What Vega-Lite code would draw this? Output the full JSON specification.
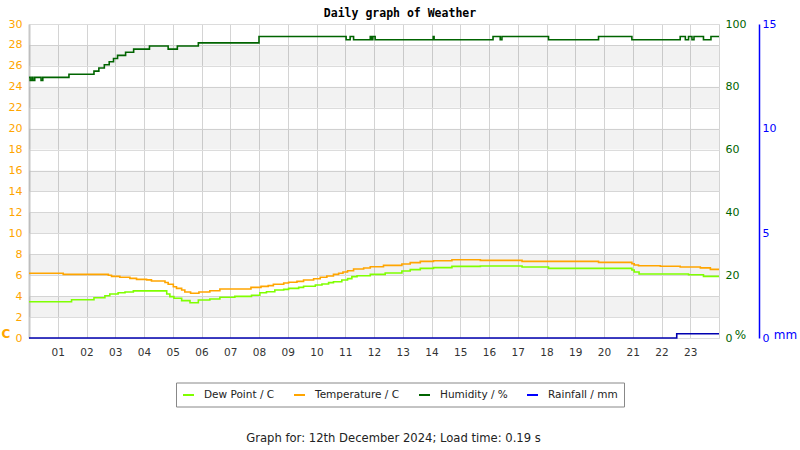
{
  "$schema": "https://vega.github.io/schema/vega-lite/v6.json",
  "width": 690,
  "height": 314,
  "autosize": "none",
  "padding": {"left": 29, "top": 24, "right": 81, "bottom": 112},
  "background": "white",
  "title": {"text": "Daily graph of Weather", "font": "DejaVu Sans Mono", "fontWeight": "bold", "fontSize": 11.5, "color": "#000", "dx": 26, "offset": -1.5, "anchor": "middle"},
  "config": {"font": "DejaVu Sans", "view": {"stroke": "#d4d4d4"}, "axis": {"labelOverlap": false, "labelBound": false}},
  "datasets": {
    "bands": [{"lo": 2, "hi": 4}, {"lo": 6, "hi": 8}, {"lo": 10, "hi": 12}, {"lo": 14, "hi": 16}, {"lo": 18, "hi": 20}, {"lo": 22, "hi": 24}, {"lo": 26, "hi": 28}],
    "temp": [
      {"h": 0, "v": 6.18}, {"h": 1.19, "v": 6.08}, {"h": 2.76, "v": 6.0}, {"h": 2.87, "v": 5.89}, {"h": 3.16, "v": 5.8},
      {"h": 3.51, "v": 5.7}, {"h": 3.74, "v": 5.6}, {"h": 4.09, "v": 5.55}, {"h": 4.26, "v": 5.44}, {"h": 4.73, "v": 5.3},
      {"h": 4.84, "v": 5.13}, {"h": 5.02, "v": 4.9}, {"h": 5.13, "v": 4.74}, {"h": 5.31, "v": 4.58}, {"h": 5.42, "v": 4.39},
      {"h": 5.62, "v": 4.27}, {"h": 5.91, "v": 4.39}, {"h": 6.29, "v": 4.52}, {"h": 6.64, "v": 4.68}, {"h": 7.72, "v": 4.84},
      {"h": 8.07, "v": 4.93}, {"h": 8.32, "v": 5.0}, {"h": 8.5, "v": 5.13}, {"h": 8.86, "v": 5.25}, {"h": 9.03, "v": 5.32},
      {"h": 9.32, "v": 5.41}, {"h": 9.55, "v": 5.54}, {"h": 9.9, "v": 5.66}, {"h": 10.13, "v": 5.8}, {"h": 10.36, "v": 5.92},
      {"h": 10.59, "v": 6.08}, {"h": 10.77, "v": 6.18}, {"h": 10.92, "v": 6.3}, {"h": 11.08, "v": 6.43}, {"h": 11.29, "v": 6.59},
      {"h": 11.64, "v": 6.69}, {"h": 11.87, "v": 6.81}, {"h": 12.33, "v": 6.94}, {"h": 12.97, "v": 7.07}, {"h": 13.26, "v": 7.2},
      {"h": 13.61, "v": 7.32}, {"h": 14.07, "v": 7.38}, {"h": 14.71, "v": 7.48}, {"h": 15.7, "v": 7.42}, {"h": 17.15, "v": 7.32},
      {"h": 19.81, "v": 7.23}, {"h": 20.97, "v": 7.1}, {"h": 21.05, "v": 6.97}, {"h": 21.2, "v": 6.9}, {"h": 21.96, "v": 6.85},
      {"h": 22.65, "v": 6.78}, {"h": 23.35, "v": 6.7}, {"h": 23.7, "v": 6.56}, {"h": 24, "v": 6.56}
    ],
    "dew": [
      {"h": 0, "v": 3.47}, {"h": 1.48, "v": 3.66}, {"h": 2.26, "v": 3.85}, {"h": 2.64, "v": 4.04}, {"h": 2.81, "v": 4.2},
      {"h": 3.1, "v": 4.33}, {"h": 3.34, "v": 4.4}, {"h": 3.63, "v": 4.5}, {"h": 4.79, "v": 4.2}, {"h": 4.9, "v": 3.95},
      {"h": 5.04, "v": 3.8}, {"h": 5.31, "v": 3.57}, {"h": 5.6, "v": 3.37}, {"h": 5.89, "v": 3.63}, {"h": 6.29, "v": 3.72},
      {"h": 6.64, "v": 3.89}, {"h": 7.16, "v": 3.98}, {"h": 7.74, "v": 4.08}, {"h": 8.03, "v": 4.33}, {"h": 8.26, "v": 4.42},
      {"h": 8.55, "v": 4.58}, {"h": 8.86, "v": 4.65}, {"h": 9.03, "v": 4.74}, {"h": 9.38, "v": 4.84}, {"h": 9.55, "v": 4.94},
      {"h": 9.96, "v": 5.06}, {"h": 10.19, "v": 5.16}, {"h": 10.42, "v": 5.29}, {"h": 10.59, "v": 5.38}, {"h": 10.88, "v": 5.54},
      {"h": 11.08, "v": 5.67}, {"h": 11.23, "v": 5.86}, {"h": 11.41, "v": 5.95}, {"h": 11.87, "v": 6.08}, {"h": 12.39, "v": 6.21},
      {"h": 12.97, "v": 6.4}, {"h": 13.26, "v": 6.53}, {"h": 13.61, "v": 6.65}, {"h": 14.07, "v": 6.72}, {"h": 14.71, "v": 6.84},
      {"h": 15.7, "v": 6.88}, {"h": 17.15, "v": 6.78}, {"h": 18.07, "v": 6.65}, {"h": 20.97, "v": 6.5}, {"h": 21.05, "v": 6.3},
      {"h": 21.22, "v": 6.11}, {"h": 22.94, "v": 6.05}, {"h": 23.46, "v": 5.89}, {"h": 24, "v": 5.89}
    ],
    "hum": [
      {"h": 0, "v": 83}, {"h": 0.04, "v": 82}, {"h": 0.1, "v": 83}, {"h": 0.14, "v": 82}, {"h": 0.2, "v": 83},
      {"h": 0.42, "v": 82}, {"h": 0.48, "v": 83}, {"h": 1.39, "v": 84}, {"h": 2.26, "v": 85}, {"h": 2.43, "v": 86},
      {"h": 2.62, "v": 87}, {"h": 2.79, "v": 88}, {"h": 2.94, "v": 89}, {"h": 3.08, "v": 90}, {"h": 3.36, "v": 91},
      {"h": 3.64, "v": 92}, {"h": 4.19, "v": 93}, {"h": 4.84, "v": 92}, {"h": 5.16, "v": 93}, {"h": 5.89, "v": 94},
      {"h": 8.0, "v": 96}, {"h": 11.03, "v": 95}, {"h": 11.17, "v": 96}, {"h": 11.29, "v": 95}, {"h": 11.87, "v": 96},
      {"h": 11.92, "v": 95}, {"h": 11.96, "v": 96}, {"h": 12.04, "v": 95}, {"h": 14.06, "v": 96}, {"h": 14.09, "v": 95},
      {"h": 16.14, "v": 96}, {"h": 16.39, "v": 95}, {"h": 16.45, "v": 96}, {"h": 18.07, "v": 95}, {"h": 19.81, "v": 96},
      {"h": 20.97, "v": 95}, {"h": 22.65, "v": 96}, {"h": 22.83, "v": 95}, {"h": 22.94, "v": 96}, {"h": 23.06, "v": 95},
      {"h": 23.13, "v": 96}, {"h": 23.46, "v": 95}, {"h": 23.72, "v": 96}, {"h": 24, "v": 96}
    ],
    "rain": [{"h": 0, "v": 0}, {"h": 22.53, "v": 0.2}, {"h": 24, "v": 0.2}]
  },
  "layer": [
    {
      "layer": [
        {
          "data": {"name": "bands"},
          "mark": {"type": "rect", "fill": "#000", "opacity": 0.05},
          "encoding": {
            "x": {"datum": 0, "type": "quantitative", "scale": {"domain": [0, 24], "nice": false, "zero": false}},
            "x2": {"datum": 24},
            "y": {"field": "lo", "type": "quantitative", "scale": {"domain": [0, 30], "nice": false}, "title": "C"},
            "y2": {"field": "hi"}
          }
        },
        {
          "data": {"name": "dew"},
          "mark": {"type": "line", "interpolate": "step-after", "strokeWidth": 1.6},
          "encoding": {
            "x": {"field": "h", "type": "quantitative", "scale": {"domain": [0, 24], "nice": false, "zero": false}, "title": "Graph for: 12th December 2024; Load time: 0.19 s"},
            "y": {"field": "v", "type": "quantitative", "scale": {"domain": [0, 30], "nice": false}, "title": "C"},
            "color": {"datum": "Dew Point / C", "type": "nominal",
              "scale": {"domain": ["Dew Point / C", "Temperature / C", "Humidity / %", "Rainfall / mm"], "range": ["#7fff00", "#ffa500", "#006400", "#0000ff"]}}
          }
        },
        {
          "data": {"name": "temp"},
          "mark": {"type": "line", "interpolate": "step-after", "strokeWidth": 1.6},
          "encoding": {
            "x": {"field": "h", "type": "quantitative", "scale": {"domain": [0, 24], "nice": false, "zero": false},
              "title": "Graph for: 12th December 2024; Load time: 0.19 s",
              "axis": {"values": [1, 2, 3, 4, 5, 6, 7, 8, 9, 10, 11, 12, 13, 14, 15, 16, 17, 18, 19, 20, 21, 22, 23],
                "tickCount": 100,
                "labelExpr": "datum.value < 10 ? '0' + datum.value : '' + datum.value",
                "labelOverlap": false,
                "grid": true, "gridColor": "#d4d4d4", "ticks": false, "domain": false, "labelPadding": 9,
                "labelFontSize": 10.5, "labelColor": "#333", "labelFont": "DejaVu Sans",
                "titleFontSize": 11.6, "titleFontWeight": "normal", "titleColor": "#222", "titleFont": "DejaVu Sans",
                "titleX": 364, "titleY": 100, "titleAlign": "center", "titleBaseline": "middle"}},
            "y": {"field": "v", "type": "quantitative", "scale": {"domain": [0, 30], "nice": false}, "title": "C",
              "axis": {"values": [0, 2, 4, 6, 8, 10, 12, 14, 16, 18, 20, 22, 24, 26, 28, 30],
                "tickCount": 100, "format": "d",
                "labelOverlap": false,
                "grid": true, "gridColor": "#dcdcdc", "ticks": false, "domain": true, "domainColor": "#c8c8c8", "domainWidth": 2,
                "labelColor": "#ffa500", "labelFontSize": 11, "labelPadding": 7, "labelFont": "DejaVu Sans",
                "titleColor": "#ffa500", "titleFontSize": 12, "titleFontWeight": "bold", "titleAngle": 0,
                "titleX": -23.5, "titleY": 309, "titleAlign": "center", "titleBaseline": "middle"}},
            "color": {"datum": "Temperature / C", "type": "nominal",
              "scale": {"domain": ["Dew Point / C", "Temperature / C", "Humidity / %", "Rainfall / mm"], "range": ["#7fff00", "#ffa500", "#006400", "#0000ff"]},
              "legend": {"title": null, "orient": "none", "legendX": 147, "legendY": 358.5, "direction": "horizontal", "columns": 4,
                "gridAlign": "none",
                "symbolType": "stroke", "symbolSize": 121, "symbolStrokeWidth": 2, "labelFontSize": 10.5, "labelColor": "#222",
                "labelFont": "DejaVu Sans", "labelOffset": 9, "columnPadding": 15, "padding": 6, "strokeColor": "#888", "fillColor": "#fff"}}
          }
        }
      ]
    },
    {
      "data": {"name": "hum"},
      "mark": {"type": "line", "interpolate": "step-after", "strokeWidth": 1.6},
      "encoding": {
        "x": {"field": "h", "type": "quantitative", "scale": {"domain": [0, 24], "nice": false, "zero": false}, "title": "Graph for: 12th December 2024; Load time: 0.19 s"},
        "y": {"field": "v", "type": "quantitative", "scale": {"domain": [0, 100], "nice": false}, "title": "%",
          "axis": {"orient": "right", "values": [0, 20, 40, 60, 80, 100], "tickCount": 100, "format": "d", "labelOverlap": false, "grid": false, "ticks": false, "domain": false,
            "labelColor": "#006400", "labelFontSize": 11, "labelPadding": 6, "labelFont": "DejaVu Sans",
            "titleColor": "#006400", "titleFontSize": 12, "titleFontWeight": "normal", "titleAngle": 0,
            "titleX": 21, "titleY": 310.5, "titleAlign": "center", "titleBaseline": "middle"}},
        "color": {"datum": "Humidity / %", "type": "nominal",
          "scale": {"domain": ["Dew Point / C", "Temperature / C", "Humidity / %", "Rainfall / mm"], "range": ["#7fff00", "#ffa500", "#006400", "#0000ff"]}}
      }
    },
    {
      "data": {"name": "rain"},
      "mark": {"type": "line", "interpolate": "step-after", "strokeWidth": 1.6, "stroke": "#0000b0"},
      "encoding": {
        "x": {"field": "h", "type": "quantitative", "scale": {"domain": [0, 24], "nice": false, "zero": false}, "title": "Graph for: 12th December 2024; Load time: 0.19 s"},
        "y": {"field": "v", "type": "quantitative", "scale": {"domain": [0, 15], "nice": false}, "title": "mm",
          "axis": {"orient": "right", "offset": 40, "values": [0, 5, 10, 15], "tickCount": 100, "format": "d", "labelOverlap": false, "grid": false, "ticks": false, "domain": true,
            "domainColor": "#0000ff", "domainWidth": 1.5,
            "labelColor": "#0000ff", "labelFontSize": 11, "labelPadding": 3, "labelFont": "DejaVu Sans",
            "titleColor": "#0000ff", "titleFontSize": 12, "titleFontWeight": "normal", "titleAngle": 0,
            "titleX": 26, "titleY": 310.5, "titleAlign": "center", "titleBaseline": "middle"}}
      }
    }
  ],
  "resolve": {"scale": {"y": "independent"}}
}
